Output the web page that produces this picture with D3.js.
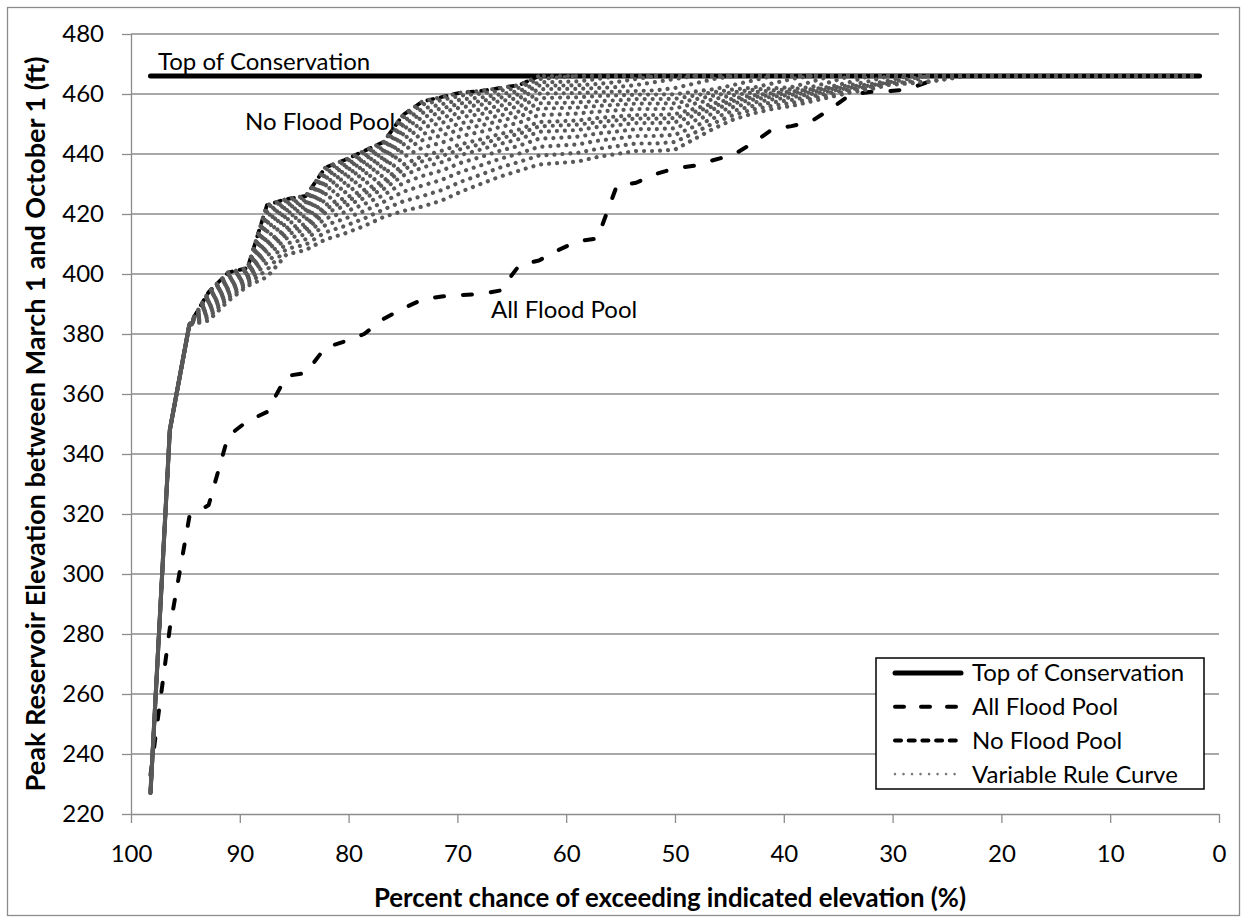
<!DOCTYPE html>
<html>
<head>
<meta charset="utf-8">
<script src="https://cdn.jsdelivr.net/npm/d3@7/dist/d3.min.js"></script>
<style>
html,body{margin:0;padding:0;background:#fff;}
svg{display:block;font-family:Lato,"Open Sans",sans-serif;}
</style>
</head>
<body>
<svg id="chart" width="1247" height="923"></svg>
<script>
// ---------------- DATA ----------------
const xTicks = [100, 90, 80, 70, 60, 50, 40, 30, 20, 10, 0];
const yTicks = [220, 240, 260, 280, 300, 320, 340, 360, 380, 400, 420, 440, 460, 480];

// plotting positions (percent chance of exceedance), 55 years
const exceedance = [
  98.21, 96.43, 94.64, 92.86, 91.07, 89.29, 87.50, 85.71, 83.93, 82.14,
  80.36, 78.57, 76.79, 75.00, 73.21, 71.43, 69.64, 67.86, 66.07, 64.29,
  62.50, 60.71, 58.93, 57.14, 55.36, 53.57, 51.79, 50.00, 48.21, 46.43,
  44.64, 42.86, 41.07, 39.29, 37.50, 35.71, 33.93, 32.14, 30.36, 28.57,
  26.79, 25.00, 23.21, 21.43, 19.64, 17.86, 16.07, 14.29, 12.50, 10.71,
  8.93, 7.14, 5.36, 3.57, 1.79
];

const topOfConservation = [
  466,466,466,466,466,466,466,466,466,466,
  466,466,466,466,466,466,466,466,466,466,
  466,466,466,466,466,466,466,466,466,466,
  466,466,466,466,466,466,466,466,466,466,
  466,466,466,466,466,466,466,466,466,466,
  466,466,466,466,466
];

const allFloodPool = [
  233, 282, 319, 323, 346, 351, 354, 366, 367, 375.5,
  377.5, 380, 385, 388.5, 391.5, 392.5, 393, 393.3, 394.5, 403,
  404.5, 408, 411, 411.8, 429.3, 430.4, 433.3, 435.2, 436.1, 438,
  439.7, 443.6, 448.2, 449.3, 450.8, 455, 459.7, 460.7, 460.9, 461.6,
  464, 466, 466, 466, 466, 466, 466, 466, 466, 466,
  466, 466, 466, 466, 466
];

const noFloodPool = [
  227, 348, 383, 394, 400.5, 402, 423, 425, 426, 435.5,
  438, 441, 444, 453, 457.5, 459, 460.5, 461, 462, 463,
  466,466,466,466,466,466,466,466,466,466,
  466,466,466,466,466,466,466,466,466,466,
  466,466,466,466,466,466,466,466,466,466,
  466,466,466,466,466
];

// Variable Rule Curve family (top to bottom)
const ruleCurve01 = [
  227, 348, 383, 394, 400.5, 402, 423, 425, 426, 435.5,
  438, 441, 444, 453, 457.5, 459, 460.5, 461, 462, 463,
  466,466,466,466,466,466,466,466,466,466,
  466,466,466,466,466,466,466,466,466,466,
  466,466,466,466,466,466,466,466,466,466,
  466,466,466,466,466
];
const ruleCurve02 = [
  227, 348, 383, 393.7, 400.2, 401.8, 422.3, 424.4, 425.5, 434.8,
  437.3, 440.3, 443.3, 452.1, 456.5, 458, 459.5, 460.1, 461.1, 462.1,
  465, 465.5, 466, 466, 466, 466, 466, 466, 466, 466,
  466,466,466,466,466,466,466,466,466,466,
  466,466,466,466,466,466,466,466,466,466,
  466,466,466,466,466
];
const ruleCurve03 = [
  227, 348, 383, 393.3, 399.8, 401.6, 421.3, 423.7, 424.7, 433.8,
  436.3, 439.3, 442.3, 450.8, 455.1, 456.6, 458.2, 458.8, 459.9, 461,
  463.9, 464, 464.2, 465, 466, 466, 466, 466, 466, 466,
  466,466,466,466,466,466,466,466,466,466,
  466,466,466,466,466,466,466,466,466,466,
  466,466,466,466,466
];
const ruleCurve04 = [
  227, 348, 383, 393, 399.5, 401.3, 420.4, 423, 424, 432.9,
  435.3, 438.3, 441.3, 449.5, 453.7, 455.2, 456.9, 457.6, 458.8, 459.9,
  462.8, 462.8, 462.9, 463.3, 464, 465, 466, 466, 466, 466,
  466,466,466,466,466,466,466,466,466,466,
  466,466,466,466,466,466,466,466,466,466,
  466,466,466,466,466
];
const ruleCurve05 = [
  227, 348, 383, 392.6, 399.1, 401.1, 419.4, 422.2, 423.3, 431.9,
  434.3, 437.3, 440.3, 448.2, 452.3, 453.8, 455.6, 456.4, 457.6, 458.7,
  461.6, 461.7, 461.7, 462, 462.3, 463, 464, 465, 466, 466,
  466,466,466,466,466,466,466,466,466,466,
  466,466,466,466,466,466,466,466,466,466,
  466,466,466,466,466
];
const ruleCurve06 = [
  227, 348, 383, 392.1, 398.6, 400.8, 418.2, 421.3, 422.4, 430.7,
  433.1, 436, 439, 446.6, 450.5, 452.1, 453.9, 454.8, 456.1, 457.3,
  460.1, 460.2, 460.3, 460.6, 460.8, 461, 461.2, 462, 463.5, 465,
  466,466,466,466,466,466,466,466,466,466,
  466,466,466,466,466,466,466,466,466,466,
  466,466,466,466,466
];
const ruleCurve07 = [
  227, 348, 383, 391.6, 398.1, 400.5, 417, 420.4, 421.5, 429.5,
  431.9, 434.8, 437.8, 445, 448.8, 450.4, 452.3, 453.3, 454.6, 455.9,
  458.6, 458.8, 458.9, 459.3, 459.5, 459.8, 459.8, 459.9, 460.8, 461.6,
  463, 464.5, 466, 466, 466, 466, 466, 466, 466, 466,
  466,466,466,466,466,466,466,466,466,466,
  466,466,466,466,466
];
const ruleCurve08 = [
  227, 348, 383, 391.1, 397.6, 400.1, 415.6, 419.3, 420.4, 428.1,
  430.4, 433.3, 436.3, 443.1, 446.7, 448.3, 450.3, 451.4, 452.9, 454.2,
  456.9, 457, 457.2, 457.6, 457.9, 458.3, 458.3, 458.4, 459.5, 460.6,
  461.5, 462.1, 463.5, 465, 466, 466, 466, 466, 466, 466,
  466,466,466,466,466,466,466,466,466,466,
  466,466,466,466,466
];
const ruleCurve09 = [
  227, 348, 383, 390.5, 397, 399.8, 414.1, 418.2, 419.3, 426.6,
  428.9, 431.8, 434.8, 441.2, 444.6, 446.2, 448.3, 449.5, 451.1, 452.5,
  455.1, 455.3, 455.5, 456, 456.4, 456.8, 456.8, 456.9, 458.2, 459.5,
  460.6, 461.4, 461.9, 462.3, 464, 466, 466, 466, 466, 466,
  466,466,466,466,466,466,466,466,466,466,
  466,466,466,466,466
];
const ruleCurve10 = [
  227, 348, 383, 389.8, 396.3, 399.4, 412.4, 416.9, 418.1, 424.9,
  427.2, 430, 433, 438.9, 442.1, 443.8, 446, 447.4, 449, 450.5,
  453, 453.2, 453.5, 454.1, 454.6, 455, 455, 455.2, 456.8, 458.3,
  459.6, 460.5, 461.2, 461.6, 462.3, 464, 466, 466, 466, 466,
  466,466,466,466,466,466,466,466,466,466,
  466,466,466,466,466
];
const ruleCurve11 = [
  227, 348, 383, 389.1, 395.6, 398.9, 410.5, 415.4, 416.6, 423,
  425.3, 428, 431, 436.4, 439.3, 441.1, 443.3, 444.9, 446.7, 448.2,
  450.7, 450.9, 451.2, 452, 452.5, 453, 453, 453.3, 455.1, 456.9,
  458.5, 459.5, 460.3, 460.8, 461.6, 462.4, 464, 466, 466, 466,
  466,466,466,466,466,466,466,466,466,466,
  466,466,466,466,466
];
const ruleCurve12 = [
  227, 348, 383, 388.6, 395.1, 398.6, 409.3, 414.5, 415.7, 421.8,
  424, 426.8, 429.8, 434.8, 437.6, 439.3, 441.7, 443.3, 445.2, 446.8,
  449.2, 449.5, 449.8, 450.6, 451.2, 451.8, 451.8, 452, 454, 456,
  457.7, 458.9, 459.7, 460.3, 461.2, 462, 462.9, 464.3, 466, 466,
  466,466,466,466,466,466,466,466,466,466,
  466,466,466,466,466
];
const ruleCurve13 = [
  227, 348, 383, 388, 394.5, 398.2, 407.9, 413.3, 414.7, 420.4,
  422.6, 425.3, 428.3, 432.8, 435.5, 437.3, 439.7, 441.5, 443.4, 445,
  447.4, 447.7, 448, 449, 449.6, 450.3, 450.3, 450.6, 452.8, 455,
  456.9, 458.1, 459.1, 459.7, 460.6, 461.6, 462.5, 463.2, 464.5, 466,
  466,466,466,466,466,466,466,466,466,466,
  466,466,466,466,466
];
const ruleCurve14 = [
  227, 348, 383, 387.3, 393.8, 397.7, 406, 411.9, 413.2, 418.5,
  420.6, 423.3, 426.3, 430.3, 432.7, 434.5, 437.1, 439, 441.1, 442.8,
  445.1, 445.4, 445.8, 446.8, 447.5, 448.3, 448.3, 448.6, 451.1, 453.6,
  455.7, 457.1, 458.2, 458.9, 460, 461, 462.1, 462.8, 463.9, 465,
  466,466,466,466,466,466,466,466,466,466,
  466,466,466,466,466
];
const ruleCurve15 = [
  227, 348, 383, 386.4, 392.9, 397.2, 403.8, 410.2, 411.6, 416.3,
  418.4, 421, 424, 427.4, 429.5, 431.4, 434.1, 436.2, 438.4, 440.2,
  442.4, 442.8, 443.2, 444.4, 445.2, 446, 446, 446.4, 449.2, 452,
  454.4, 456, 457.2, 458, 459.2, 460.4, 461.6, 462.4, 463.6, 464,
  466,466,466,466,466,466,466,466,466,466,
  466,466,466,466,466
];
const ruleCurve16 = [
  227, 348, 383, 385.5, 392, 396.6, 401.4, 408.4, 409.8, 413.9,
  416, 418.5, 421.5, 424.2, 426, 428, 430.8, 433.1, 435.5, 437.4,
  439.5, 439.9, 440.4, 441.7, 442.6, 443.5, 443.5, 444, 447.1, 450.3,
  453, 454.8, 456.1, 457, 458.4, 459.7, 461.1, 462, 463.3, 463.8,
  464.2, 465, 466, 466, 466, 466, 466, 466, 466, 466,
  466,466,466,466,466
];
const ruleCurve17 = [
  227, 348, 383, 384.5, 391, 396, 399, 406.5, 408, 411.5,
  413.5, 416, 419, 421, 422.5, 424.5, 427.5, 430, 432.5, 434.5,
  436.5, 437, 437.5, 439, 440, 441, 441, 441.5, 445, 448.5,
  451.5, 453.5, 455, 456, 457.5, 459, 460.5, 461.5, 463, 463.5,
  464, 465, 466, 466, 466, 466, 466, 466, 466, 466,
  466,466,466,466,466
];
const ruleCurves = [ruleCurve01, ruleCurve02, ruleCurve03, ruleCurve04, ruleCurve05,
  ruleCurve06, ruleCurve07, ruleCurve08, ruleCurve09, ruleCurve10, ruleCurve11,
  ruleCurve12, ruleCurve13, ruleCurve14, ruleCurve15, ruleCurve16, ruleCurve17];

const legendLabels = ["Top of Conservation", "All Flood Pool", "No Flood Pool", "Variable Rule Curve"];
const xTitle = "Percent chance of exceeding indicated elevation (%)";
const yTitle = "Peak Reservoir Elevation between March 1 and October 1 (ft)";

// ---------------- DRAW ----------------
const svg = d3.select("#chart");
const GRID = "#8c8c8c";
const GRAY = "#595959";
const FONT = "Lato, 'Open Sans', sans-serif";

const x = d3.scaleLinear().domain([100, 0]).range([131, 1219]);
const y = d3.scaleLinear().domain([220, 480]).range([814, 34]);

// chart border
svg.append("rect").attr("x", 7.5).attr("y", 7.5).attr("width", 1232).attr("height", 908)
  .attr("fill", "#fff").attr("stroke", GRID).attr("stroke-width", 1.3);

// gridlines
svg.append("g").selectAll("line").data(yTicks.filter(v => v > 220)).join("line")
  .attr("x1", x(100)).attr("x2", x(0))
  .attr("y1", d => y(d)).attr("y2", d => y(d))
  .attr("stroke", GRID).attr("stroke-width", 1.3);

// axes
const yAxis = svg.append("g").attr("transform", `translate(${x(100)},0)`)
  .call(d3.axisLeft(y).tickValues(yTicks).tickSize(9).tickSizeOuter(0).tickPadding(18).tickFormat(d3.format("d")));
const xAxis = svg.append("g").attr("transform", `translate(0,${y(220)})`)
  .call(d3.axisBottom(x).tickValues(xTicks).tickSize(9).tickSizeOuter(0).tickPadding(22).tickFormat(d3.format("d")));
[yAxis, xAxis].forEach(a => {
  a.select(".domain").attr("stroke", GRID).attr("stroke-width", 1.3);
  a.selectAll(".tick line").attr("stroke", GRID).attr("stroke-width", 1.3);
  a.selectAll(".tick text").attr("font-size", 24).attr("font-family", FONT).attr("fill", "#000");
});

const lineGen = d3.line();
const pts = vals => exceedance.map((e, i) => [x(e), y(vals[i])]);

// Top of Conservation
svg.append("path").attr("d", lineGen(pts(topOfConservation)))
  .attr("fill", "none").attr("stroke", "#000").attr("stroke-width", 5).attr("stroke-linecap", "round");

// All Flood Pool (long dash)
svg.append("path").attr("d", lineGen(pts(allFloodPool)))
  .attr("fill", "none").attr("stroke", "#000").attr("stroke-width", 4)
  .attr("stroke-linecap", "round").attr("stroke-linejoin", "round")
  .attr("stroke-dasharray", "9 19");

// No Flood Pool (short dash)
svg.append("path").attr("d", lineGen(pts(noFloodPool)))
  .attr("fill", "none").attr("stroke", "#000").attr("stroke-width", 3.8)
  .attr("stroke-linecap", "round").attr("stroke-linejoin", "round")
  .attr("stroke-dasharray", "6 7.7");

// Variable rule curves (round dots)
const P = 8;
const DOT = 4.2;
const TOP = topOfConservation[0];
const gRule = svg.append("g");
ruleCurves.forEach((vals, s) => {
  let p = vals.length - 1;
  while (p > 0 && vals[p - 1] >= TOP) p--;
  const all = pts(vals);
  const rising = all.slice(0, p + 1);
  const plateau = all.slice(p);
  gRule.append("path").attr("d", lineGen(rising))
    .attr("fill", "none").attr("stroke", GRAY).attr("stroke-width", DOT)
    .attr("stroke-linecap", "round").attr("stroke-dasharray", `0.01 ${P - 0.01}`)
    .attr("stroke-dashoffset", s * P / ruleCurves.length);
  if (plateau.length > 1) {
    gRule.append("path").attr("d", lineGen(plateau))
      .attr("fill", "none").attr("stroke", GRAY).attr("stroke-width", DOT)
      .attr("stroke-linecap", "round").attr("stroke-dasharray", `0.01 ${P - 0.01}`)
      .attr("stroke-dashoffset", plateau[0][0] % P);
  }
});

// in-plot labels
const label = (t, lx, ly) => svg.append("text").attr("x", lx).attr("y", ly)
  .attr("font-family", FONT).attr("font-size", 24).attr("fill", "#000").text(t);
label("Top of Conservation", 158, 70);
label("No Flood Pool", 245, 130);
label("All Flood Pool", 491, 318);

// legend
const lg = svg.append("g");
lg.append("rect").attr("x", 876).attr("y", 658).attr("width", 328).attr("height", 131)
  .attr("fill", "#fff").attr("stroke", "#000").attr("stroke-width", 1.5);
const legendStyles = [
  {w: 5, dash: null, color: "#000"},
  {w: 4, dash: "9 17", color: "#000"},
  {w: 4, dash: "6 7.7", color: "#000"},
  {w: 2.6, dash: "0.01 8.5", color: "#7a7a7a"}
];
legendLabels.forEach((t, i) => {
  const ly = 673 + i * 33.7;
  const l = lg.append("line").attr("x1", 895).attr("x2", 961).attr("y1", ly).attr("y2", ly)
    .attr("stroke", legendStyles[i].color).attr("stroke-width", legendStyles[i].w)
    .attr("stroke-linecap", "round");
  if (legendStyles[i].dash) l.attr("stroke-dasharray", legendStyles[i].dash);
  lg.append("text").attr("x", 972).attr("y", ly).attr("dy", "0.35em")
    .attr("font-family", FONT).attr("font-size", 24).attr("fill", "#000").text(t);
});

// axis titles (sized to match reference extents)
function fitText(sel, target) {
  const w = sel.node().getComputedTextLength();
  const fs = parseFloat(sel.attr("font-size"));
  if (w > 0) sel.attr("font-size", (fs * target / w).toFixed(2));
}
const xt = svg.append("text").attr("x", 670).attr("y", 907).attr("text-anchor", "middle")
  .attr("font-family", FONT).attr("font-weight", "bold").attr("font-size", 23).text(xTitle);
fitText(xt, 592);
const yt = svg.append("text").attr("transform", "translate(45,424) rotate(-90)")
  .attr("text-anchor", "middle")
  .attr("font-family", FONT).attr("font-weight", "bold").attr("font-size", 23).text(yTitle);
fitText(yt, 735);
</script>
</body>
</html>
